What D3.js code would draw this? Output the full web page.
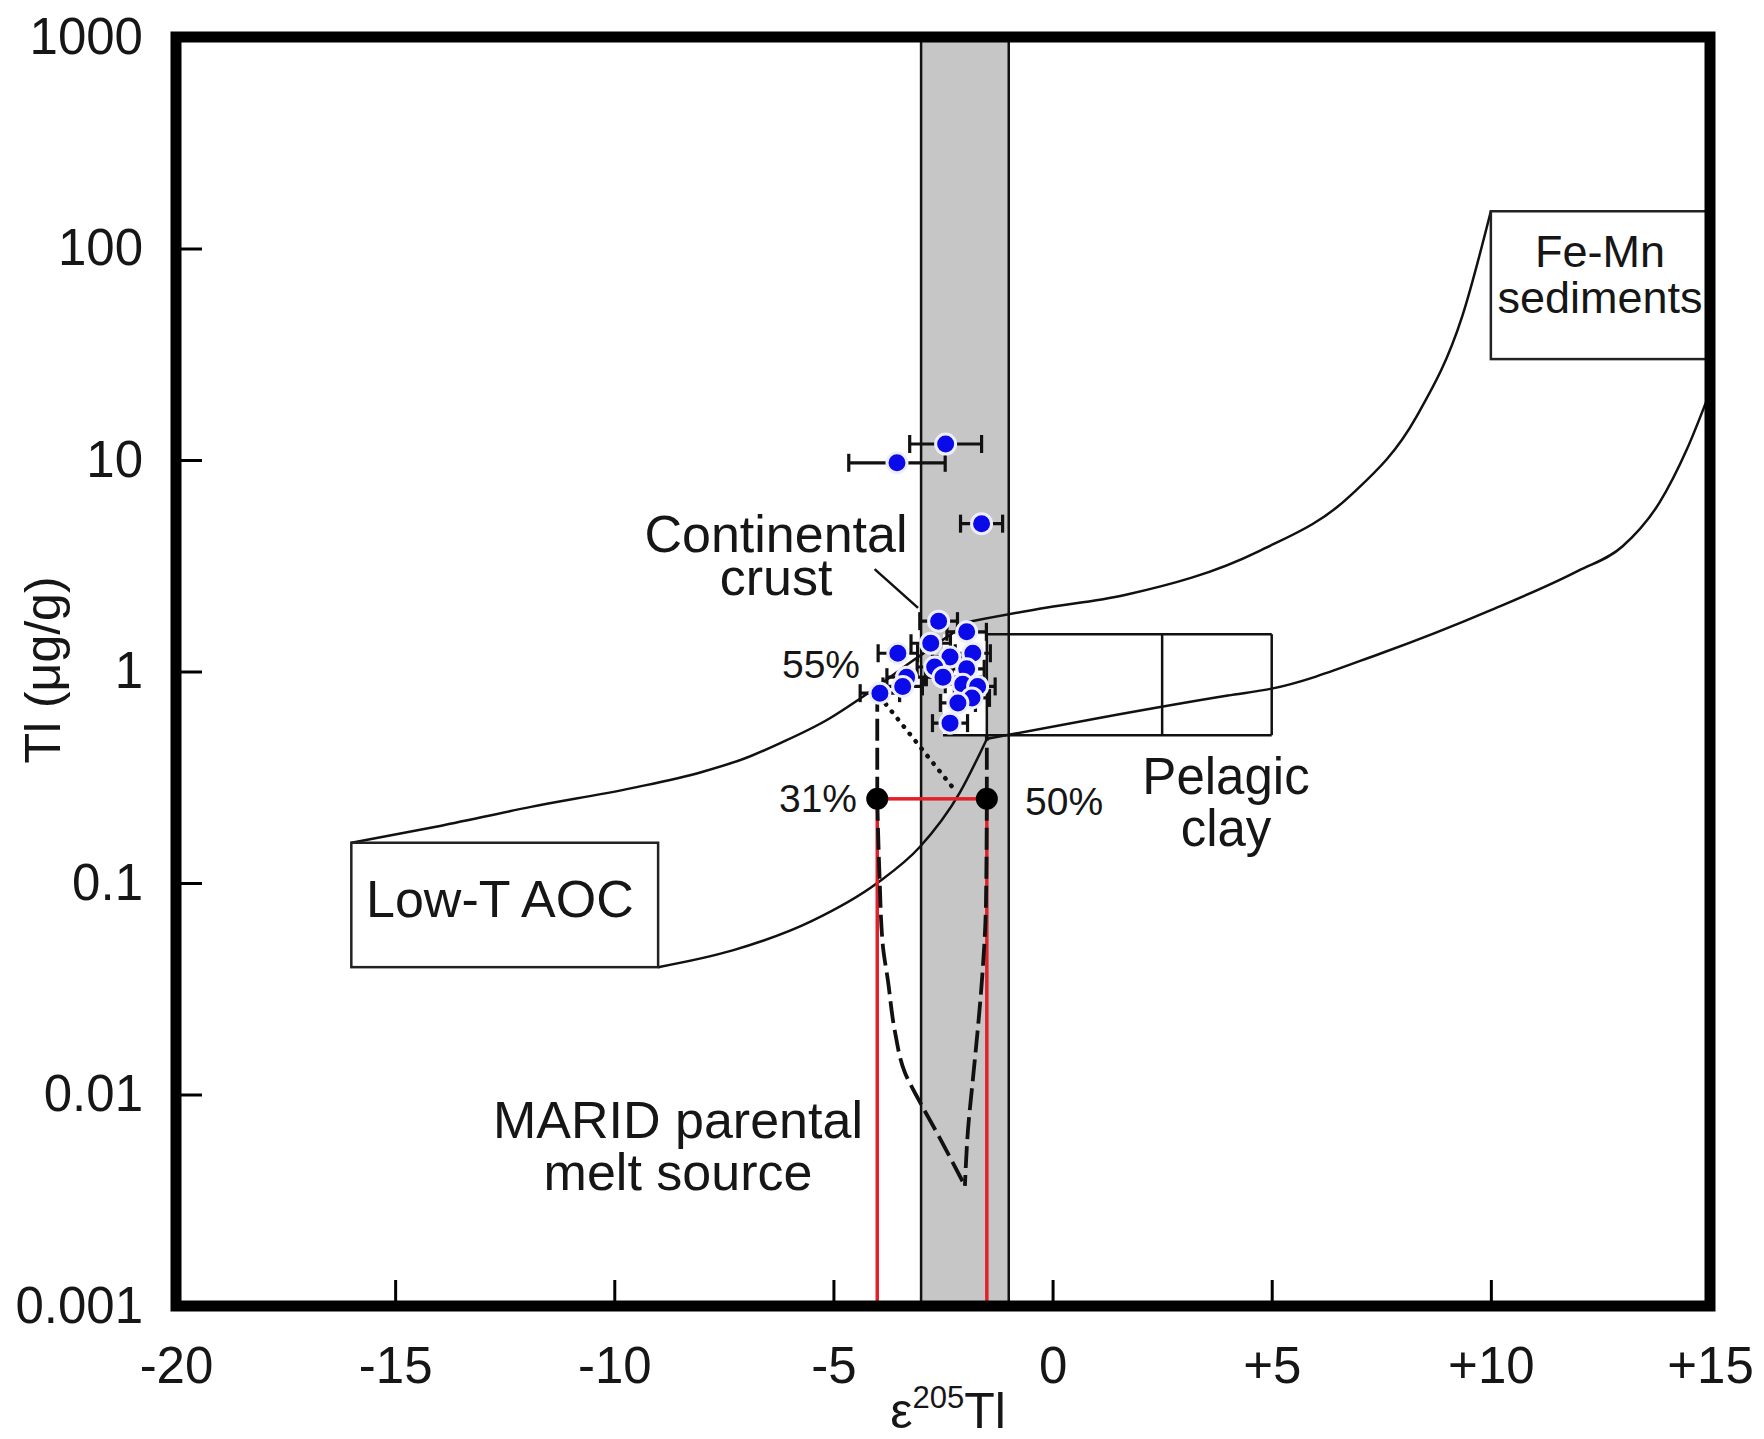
<!DOCTYPE html>
<html>
<head>
<meta charset="utf-8">
<script src="https://cdn.jsdelivr.net/npm/d3@7"></script>
<style>
body { margin: 0; background: #fff; }
text { font-family: "Liberation Sans", Arial, sans-serif; fill: #161616; }
</style>
</head>
<body>
<div id="chart"></div>
<script>
// axis ticks
var xTicks = [-20, -15, -10, -5, 0, 5, 10, 15];
var xTickLabels = ["-20", "-15", "-10", "-5", "0", "+5", "+10", "+15"];
var yTicks = [0.001, 0.01, 0.1, 1, 10, 100, 1000];
var yTickLabels = ["0.001", "0.01", "0.1", "1", "10", "100", "1000"];

// samples: [e205Tl, Tl (ug/g), error on e205Tl]
var samples = [
  [-2.44, 11.9, 0.82], [-3.55, 9.7, 1.1], [-1.62, 5.0, 0.48],
  [-2.60, 1.73, 0.43], [-1.96, 1.54, 0.45], [-2.78, 1.36, 0.45],
  [-3.53, 1.22, 0.45], [-2.34, 1.17, 0.40], [-1.82, 1.22, 0.40],
  [-2.69, 1.05, 0.40], [-1.96, 1.03, 0.40], [-3.33, 0.94, 0.45],
  [-2.50, 0.94, 0.40], [-2.05, 0.87, 0.40], [-1.71, 0.85, 0.40],
  [-3.42, 0.85, 0.45], [-1.84, 0.75, 0.40], [-2.16, 0.71, 0.40],
  [-3.94, 0.79, 0.45], [-2.34, 0.57, 0.40]
];

// mixing curves (AOC - continental crust - Fe-Mn sediments)
var upperAocCrust = [[-16, 0.155], [-14.1, 0.184], [-11.9, 0.229], [-9.6, 0.281], [-8, 0.335],
  [-7, 0.39], [-6.2, 0.46], [-5.15, 0.59], [-4.33, 0.76], [-3.2, 1.12], [-1.9, 1.72]];
var upperCrustFeMn = [[-1.9, 1.72], [-0.3, 1.98], [1.65, 2.3], [4.7, 3.7], [6.8, 6.8],
  [8.3, 16], [9.35, 48], [10, 150]];
var lowerAocCrust = [[-9, 0.04], [-7.3, 0.048], [-5.5, 0.066], [-4.0, 0.1], [-3.03, 0.148],
  [-2.12, 0.267], [-1.5, 0.48]];
var lowerCrustFeMn = [[-1.5, 0.48], [1.0, 0.6], [4.0, 0.77], [5, 0.83], [7.5, 1.22],
  [10, 1.95], [12, 3.0], [13, 3.9], [13.85, 6.3], [14.47, 11.2], [15, 21]];

// MARID source melting paths
var meltLeft = [[-4, 0.25], [-3.95, 0.11], [-3.87, 0.05], [-3.76, 0.035], [-3.6, 0.02],
  [-3.37, 0.0127], [-3.05, 0.0094], [-2.64, 0.0066], [-2.0, 0.0037]];
var meltRight = [[-1.5, 0.25], [-1.52, 0.08], [-1.61, 0.035], [-1.71, 0.02], [-1.82, 0.0117],
  [-1.93, 0.0068], [-2.0, 0.0037]];
var meltUpLeft = [[-4, 0.25], [-4, 0.7]];
var meltUpRight = [[-1.5, 0.25], [-1.5, 0.5]];
var dottedMix = [[-3.94, 0.76], [-2.2, 0.27]];
var meltPoints = [[-4, 0.25], [-1.5, 0.25]];

// fields
var mantleBand = [-3, -1];
var maridBox = [-4, -1.5, 0.001, 0.25];
var aocBox = [-16, -9, 0.04, 0.155];
var feMnBox = [10, 15, 30, 150];
var clayBox = [-1.5, 5, 0.5, 1.5];
var clayDivider = 2.5;
var crustPointer = [[-4.06, 3.05], [-3.07, 2.0]];

var margin = {top: 37, right: 54, bottom: 133, left: 176},
    width = 1764 - margin.left - margin.right,
    height = 1439 - margin.top - margin.bottom;

var x = d3.scaleLinear().domain([-20, 15]).range([0, width]);
var y = d3.scaleLog().domain([0.001, 1000]).range([height, 0]);

var svg = d3.select("#chart").append("svg")
    .attr("width", width + margin.left + margin.right)
    .attr("height", height + margin.top + margin.bottom)
    .append("g")
      .attr("transform", "translate(" + margin.left + "," + margin.top + ")");

var line = d3.line()
    .x(function(d) { return x(d[0]); })
    .y(function(d) { return y(d[1]); });
var smoothX = d3.line()
    .x(function(d) { return x(d[0]); })
    .y(function(d) { return y(d[1]); })
    .curve(d3.curveMonotoneX);
var smoothY = d3.line()
    .x(function(d) { return x(d[0]); })
    .y(function(d) { return y(d[1]); })
    .curve(d3.curveMonotoneY);

// grey band
svg.append("rect")
    .attr("x", x(mantleBand[0]))
    .attr("y", 0)
    .attr("width", x(mantleBand[1]) - x(mantleBand[0]))
    .attr("height", height)
    .attr("fill", "#c6c6c6");
mantleBand.forEach(function(v) {
  svg.append("line")
      .attr("x1", x(v)).attr("x2", x(v))
      .attr("y1", 0).attr("y2", height)
      .attr("stroke", "#111").attr("stroke-width", 2.5);
});

// white patch behind the data cluster
svg.append("rect")
    .attr("x", x(-2.5))
    .attr("y", y(1.5))
    .attr("width", x(-1.5) - x(-2.5))
    .attr("height", y(0.5) - y(1.5))
    .attr("fill", "#fff");

// pelagic clay box
function seg(x1, y1, x2, y2) {
  svg.append("line")
      .attr("x1", x(x1)).attr("y1", y(y1))
      .attr("x2", x(x2)).attr("y2", y(y2))
      .attr("stroke", "#111").attr("stroke-width", 2.5);
}
seg(clayBox[0], clayBox[3], clayBox[1], clayBox[3]);
seg(-2.5, clayBox[2], clayBox[1], clayBox[2]);
seg(clayBox[0], clayBox[2], clayBox[0], clayBox[3]);
seg(clayBox[1], clayBox[2], clayBox[1], clayBox[3]);
seg(clayDivider, clayBox[2], clayDivider, clayBox[3]);

// mixing curves
[upperAocCrust, upperCrustFeMn, lowerAocCrust, lowerCrustFeMn].forEach(function(c) {
  svg.append("path")
      .datum(c)
      .attr("d", smoothX)
      .attr("fill", "none")
      .attr("stroke", "#111")
      .attr("stroke-width", 2.5);
});

// boxes
[aocBox, feMnBox].forEach(function(b) {
  svg.append("rect")
      .attr("x", x(b[0]))
      .attr("y", y(b[3]))
      .attr("width", x(b[1]) - x(b[0]))
      .attr("height", y(b[2]) - y(b[3]))
      .attr("fill", "#fff")
      .attr("stroke", "#222")
      .attr("stroke-width", 2.5);
});

// continental crust pointer
svg.append("path")
    .datum(crustPointer)
    .attr("d", line)
    .attr("stroke", "#111")
    .attr("stroke-width", 2.5);

// MARID box (red)
svg.append("rect")
    .attr("x", x(maridBox[0]))
    .attr("y", y(maridBox[3]))
    .attr("width", x(maridBox[1]) - x(maridBox[0]))
    .attr("height", y(maridBox[2]) - y(maridBox[3]))
    .attr("fill", "none")
    .attr("stroke", "#e3202a")
    .attr("stroke-width", 3.5);

// melting paths
[meltLeft, meltRight].forEach(function(c) {
  svg.append("path")
      .datum(c)
      .attr("d", smoothY)
      .attr("fill", "none")
      .attr("stroke", "#111")
      .attr("stroke-width", 3.8)
      .attr("stroke-dasharray", "22,7");
});
[meltUpLeft, meltUpRight].forEach(function(c) {
  svg.append("path")
      .datum(c)
      .attr("d", line)
      .attr("fill", "none")
      .attr("stroke", "#111")
      .attr("stroke-width", 3.8)
      .attr("stroke-dasharray", "22,7");
});
svg.append("path")
    .datum(dottedMix)
    .attr("d", line)
    .attr("fill", "none")
    .attr("stroke", "#111")
    .attr("stroke-width", 4.5)
    .attr("stroke-linecap", "round")
    .attr("stroke-dasharray", "0.5,9");

svg.selectAll(".melt")
    .data(meltPoints)
  .enter().append("circle")
    .attr("class", "melt")
    .attr("cx", function(d) { return x(d[0]); })
    .attr("cy", function(d) { return y(d[1]); })
    .attr("r", 11)
    .attr("fill", "#000");

// error bars
var eb = svg.selectAll(".err")
    .data(samples)
  .enter().append("g")
    .attr("class", "err")
    .attr("stroke", "#111")
    .attr("stroke-width", 3.2);
eb.append("line")
    .attr("x1", function(d) { return x(d[0] - d[2]); })
    .attr("x2", function(d) { return x(d[0] + d[2]); })
    .attr("y1", function(d) { return y(d[1]); })
    .attr("y2", function(d) { return y(d[1]); });
eb.append("line")
    .attr("x1", function(d) { return x(d[0] - d[2]); })
    .attr("x2", function(d) { return x(d[0] - d[2]); })
    .attr("y1", function(d) { return y(d[1]) - 9; })
    .attr("y2", function(d) { return y(d[1]) + 9; });
eb.append("line")
    .attr("x1", function(d) { return x(d[0] + d[2]); })
    .attr("x2", function(d) { return x(d[0] + d[2]); })
    .attr("y1", function(d) { return y(d[1]) - 9; })
    .attr("y2", function(d) { return y(d[1]) + 9; });

// samples
svg.selectAll(".dot")
    .data(samples)
  .enter().append("circle")
    .attr("class", "dot")
    .attr("cx", function(d) { return x(d[0]); })
    .attr("cy", function(d) { return y(d[1]); })
    .attr("r", 10)
    .attr("fill", "#0b0bea")
    .attr("stroke", "#eeeeff")
    .attr("stroke-width", 3);

// labels
function label(lines, px, py, lead, size, anchor) {
  var t = svg.append("text")
      .attr("x", px - margin.left)
      .attr("y", py - margin.top)
      .attr("font-size", size)
      .attr("text-anchor", anchor);
  lines.forEach(function(s, i) {
    t.append("tspan")
        .attr("x", px - margin.left)
        .attr("dy", i === 0 ? 0 : lead)
        .text(s);
  });
}
label(["Continental", "crust"], 776, 552, 43, 52, "middle");
label(["55%"], 860, 678, 0, 39, "end");
label(["31%"], 857, 812, 0, 39, "end");
label(["50%"], 1025, 815, 0, 39, "start");
label(["Pelagic", "clay"], 1226, 794, 52, 51, "middle");
label(["Low-T AOC"], 366, 917, 0, 52, "start");
label(["Fe-Mn", "sediments"], 1600, 267, 46, 45, "middle");
label(["MARID parental", "melt source"], 678, 1138, 52, 52, "middle");

// axes
var xAxis = svg.append("g")
    .attr("transform", "translate(0," + height + ")")
    .call(d3.axisBottom(x).tickValues(xTicks)
      .tickFormat(function(d, i) { return xTickLabels[i]; })
      .tickSizeInner(-26).tickSizeOuter(0).tickPadding(41));
var yAxis = svg.append("g")
    .call(d3.axisLeft(y).tickValues(yTicks)
      .tickFormat(function(d, i) { return yTickLabels[i]; })
      .tickSizeInner(-26).tickSizeOuter(0).tickPadding(33));
[xAxis, yAxis].forEach(function(a) {
  a.select(".domain").remove();
  a.selectAll(".tick line").attr("stroke", "#000").attr("stroke-width", 3);
  a.selectAll(".tick text")
      .attr("font-size", 51)
      .attr("font-family", "'Liberation Sans', Arial, sans-serif")
      .attr("fill", "#161616");
});

// frame
svg.append("rect")
    .attr("width", width)
    .attr("height", height)
    .attr("fill", "none")
    .attr("stroke", "#000")
    .attr("stroke-width", 11);

// axis titles
var xt = svg.append("text")
    .attr("x", 948 - margin.left)
    .attr("y", 1428 - margin.top)
    .attr("font-size", 50)
    .attr("text-anchor", "middle");
xt.append("tspan").text("\u03b5");
xt.append("tspan").attr("font-size", 31).attr("dy", -20).text("205");
xt.append("tspan").attr("dy", 20).text("Tl");

svg.append("text")
    .attr("transform", "translate(" + (60 - margin.left) + "," + (670 - margin.top) + ") rotate(-90)")
    .attr("font-size", 50)
    .attr("text-anchor", "middle")
    .text("Tl (\u03bcg/g)");
</script>
</body>
</html>
